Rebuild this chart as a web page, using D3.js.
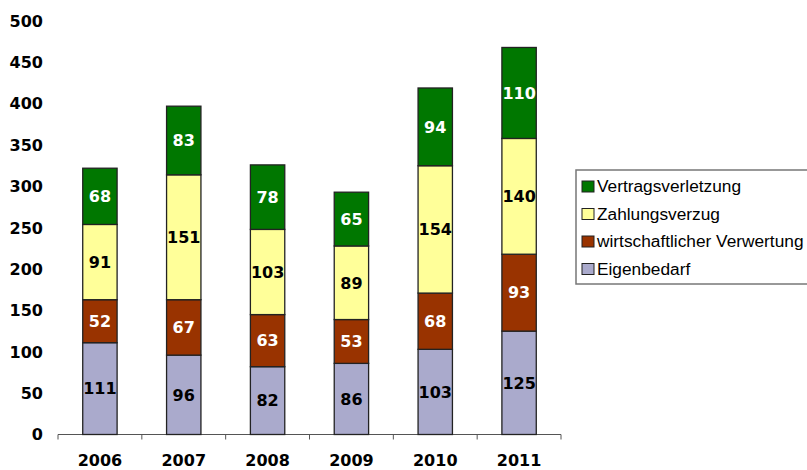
<!DOCTYPE html>
<html><head><meta charset="utf-8">
<script src="https://cdn.jsdelivr.net/npm/d3@7"></script>
<style>body{margin:0;background:#fff;}svg{display:block;}</style>
</head><body>
<svg id="c" width="807" height="470"></svg>
<script>
const years = ["2006","2007","2008","2009","2010","2011"];
const seriesNames = ["Eigenbedarf","wirtschaftlicher Verwertung","Zahlungsverzug","Vertragsverletzung"];
const eigenbedarf = [111,96,82,86,103,125];
const wirtschaftlich = [52,67,63,53,68,93];
const zahlungsverzug = [91,151,103,89,154,140];
const vertragsverletzung = [68,83,78,65,94,110];
const yTicks = [0,50,100,150,200,250,300,350,400,450,500];
const colors = ["#aaaacc","#993300","#ffff99","#007700"];
const labelColors = ["#000","#fff","#000","#fff"];

const seriesVals = [eigenbedarf, wirtschaftlich, zahlungsverzug, vertragsverletzung];
const table = years.map((y,i)=>{const o={year:y}; seriesNames.forEach((s,j)=>o[s]=seriesVals[j][i]); return o;});
const stack = d3.stack().keys(seriesNames)(table);

const svg = d3.select("#c");
const x = d3.scaleBand().domain(years).range([58,561]).paddingInner(0.59).paddingOuter(0.295);
const xOuter = d3.scaleBand().domain(years).range([58,561]);
const y = d3.scaleLinear().domain([0,500]).range([434.5,21]);

// x axis line and ticks
const xa = svg.append("g");
xa.append("line").attr("x1",58).attr("x2",561).attr("y1",y(0)).attr("y2",y(0)).attr("stroke","#555").attr("stroke-width",1);
const bounds = years.map(d=>xOuter(d)).concat([561]);
xa.selectAll("line.t").data(bounds).join("line").attr("class","t")
  .attr("x1",d=>d).attr("x2",d=>d).attr("y1",y(0)).attr("y2",y(0)+5).attr("stroke","#555");
xa.selectAll("text").data(years).join("text")
  .attr("x",d=>xOuter(d)+xOuter.bandwidth()/2).attr("y",465.5)
  .attr("text-anchor","middle").attr("font-family","DejaVu Sans").attr("font-weight","bold").attr("font-size",16)
  .text(d=>d);

// y labels
svg.append("g").selectAll("text").data(yTicks).join("text")
  .attr("x",43).attr("y",d=>y(d)).attr("dy","0.36em")
  .attr("text-anchor","end").attr("font-family","DejaVu Sans").attr("font-weight","bold").attr("font-size",16)
  .text(d=>d);

// bars
const g = svg.append("g");
stack.forEach((s,j)=>{
  g.selectAll("rect.s"+j).data(s).join("rect").attr("class","s"+j)
    .attr("x",d=>x(d.data.year)).attr("width",x.bandwidth())
    .attr("y",d=>y(d[1])).attr("height",d=>y(d[0])-y(d[1]))
    .attr("fill",colors[j]).attr("stroke","#222").attr("stroke-width",1.3);
});
stack.forEach((s,j)=>{
  g.selectAll("text.l"+j).data(s).join("text").attr("class","l"+j)
    .attr("x",d=>x(d.data.year)+x.bandwidth()/2).attr("y",d=>(y(d[0])+y(d[1]))/2).attr("dy","0.36em")
    .attr("text-anchor","middle").attr("font-family","DejaVu Sans").attr("font-weight","bold").attr("font-size",16)
    .attr("fill",labelColors[j]).text(d=>d[1]-d[0]);
});

// legend
const lg = svg.append("g");
lg.append("rect").attr("x",576).attr("y",170).attr("width",240).attr("height",114)
  .attr("fill","#fff").attr("stroke","#777").attr("stroke-width",1.5);
const order = [3,2,1,0];
order.forEach((j,i)=>{
  const cy = 186 + i*27.5;
  lg.append("rect").attr("x",582).attr("y",cy-5).attr("width",12).attr("height",11)
    .attr("fill",colors[j]).attr("stroke","#222").attr("stroke-width",1);
  lg.append("text").attr("x",597).attr("y",cy).attr("dy","0.36em")
    .attr("font-family","Liberation Sans").attr("font-size",17.3).text(seriesNames[j]);
});
</script>
</body></html>
